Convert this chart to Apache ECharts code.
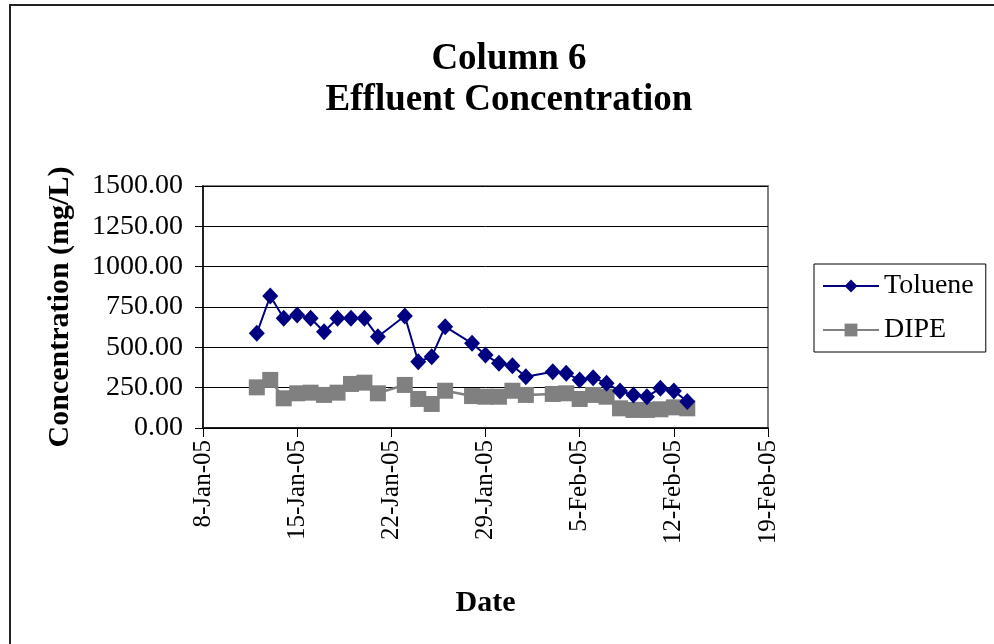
<!DOCTYPE html>
<html>
<head>
<meta charset="utf-8">
<script src="https://cdn.jsdelivr.net/npm/echarts@6/dist/echarts.min.js"></script>
<style>
  html, body { margin: 0; padding: 0; background: #fff; }
  #chart { width: 994px; height: 644px; }
</style>
</head>
<body>
<div id="chart"></div>
<script>
// sample dates (2005)
const dates = [
  '2005-01-12', '2005-01-13', '2005-01-14', '2005-01-15', '2005-01-16',
  '2005-01-17', '2005-01-18', '2005-01-19', '2005-01-20', '2005-01-21',
  '2005-01-23', '2005-01-24', '2005-01-25', '2005-01-26', '2005-01-28',
  '2005-01-29', '2005-01-30', '2005-01-31', '2005-02-01', '2005-02-03',
  '2005-02-04', '2005-02-05', '2005-02-06', '2005-02-07', '2005-02-08',
  '2005-02-09', '2005-02-10', '2005-02-11', '2005-02-12', '2005-02-13'
]
const toluene = [
  587, 818, 680, 700, 680, 597, 680, 680, 680, 566,
  694, 411, 442, 628, 525, 452, 401, 386, 318, 349,
  339, 298, 312, 277, 229, 205, 194, 246, 229, 165
]
const dipe = [
  252, 298, 184, 215, 219, 205, 219, 273, 281, 215,
  267, 180, 149, 231, 198, 194, 194, 231, 205, 211,
  215, 180, 205, 194, 122, 112, 112, 116, 128, 122
]
const axisStart = '2005-01-08'
const axisEnd = '2005-02-19'
const months = ['Jan', 'Feb', 'Mar', 'Apr', 'May', 'Jun', 'Jul', 'Aug', 'Sep', 'Oct', 'Nov', 'Dec']

const DAY = 86400000
const t0 = Date.parse(axisStart)
const toDay = d => (Date.parse(d) - t0) / DAY
const fmtDay = v => {
  const d = new Date(t0 + v * DAY)
  return d.getUTCDate() + '-' + months[d.getUTCMonth()] + '-' + String(d.getUTCFullYear()).slice(2)
}

const font = 'Liberation Serif'
const chart = echarts.init(document.getElementById('chart'))

chart.setOption({
  animation: false,
  title: {
    text: 'Column 6\nEffluent Concentration',
    left: 504,
    top: 34,
    textAlign: 'center',
    textStyle: { fontFamily: font, fontSize: 37, fontWeight: 'bold', color: '#000', lineHeight: 41 }
  },
  graphic: [{
    type: 'rect',
    shape: { x: 10, y: 5, width: 1100, height: 800 },
    style: { fill: 'none', stroke: '#222', lineWidth: 2 },
    silent: true
  }],
  legend: {
    orient: 'vertical',
    left: 814,
    top: 264,
    padding: [8, 12, 8, 8],
    itemGap: 16,
    itemWidth: 56,
    itemHeight: 16,
    borderColor: '#000',
    borderWidth: 1,
    textStyle: { fontFamily: font, fontSize: 28, color: '#000' },
    data: ['Toluene', 'DIPE']
  },
  grid: {
    left: 203,
    right: 226,
    top: 186,
    bottom: 216,
    show: true,
    borderColor: '#808080',
    borderWidth: 2,
    containLabel: false
  },
  xAxis: {
    type: 'value',
    min: 0,
    max: toDay(axisEnd),
    interval: 7,
    name: 'Date',
    nameLocation: 'middle',
    nameGap: 160,
    nameTextStyle: { fontFamily: font, fontSize: 30, fontWeight: 'bold', color: '#000' },
    axisLine: { lineStyle: { color: '#000', width: 1.5 } },
    axisTick: { length: 9, lineStyle: { color: '#000' } },
    axisLabel: {
      rotate: 90,
      margin: 12,
      fontFamily: font,
      fontSize: 25,
      color: '#000',
      formatter: fmtDay
    },
    splitLine: { show: false }
  },
  yAxis: [{
    type: 'value',
    min: 0,
    max: 1500,
    interval: 250,
    name: 'Concentration (mg/L)',
    nameLocation: 'middle',
    nameGap: 128,
    nameTextStyle: { fontFamily: font, fontSize: 30, fontWeight: 'bold', color: '#000' },
    axisLine: { show: true, lineStyle: { color: '#000', width: 1.5 } },
    axisTick: { show: true, length: 8, lineStyle: { color: '#000' } },
    axisLabel: {
      margin: 20,
      fontFamily: font,
      fontSize: 28,
      color: '#000',
      formatter: v => v.toFixed(2)
    },
    splitLine: { show: true, lineStyle: { color: '#000', width: 1 } }
  }, {
    // inner half of the crossing ticks
    type: 'value',
    position: 'left',
    min: 0,
    max: 1500,
    interval: 250,
    axisLine: { show: false },
    axisTick: { show: true, inside: true, length: 7, lineStyle: { color: '#000' } },
    axisLabel: { show: false },
    splitLine: { show: false }
  }],
  series: [{
    name: 'Toluene',
    type: 'line',
    data: dates.map((d, i) => [toDay(d), toluene[i]]),
    symbol: 'diamond',
    symbolSize: [16, 17],
    lineStyle: { color: '#000080', width: 2 },
    itemStyle: { color: '#000080' },
    z: 3
  }, {
    name: 'DIPE',
    type: 'line',
    data: dates.map((d, i) => [toDay(d), dipe[i]]),
    symbol: 'rect',
    symbolSize: 16,
    lineStyle: { color: '#808080', width: 2.5 },
    itemStyle: { color: '#808080' },
    z: 2
  }]
})
</script>
</body>
</html>
